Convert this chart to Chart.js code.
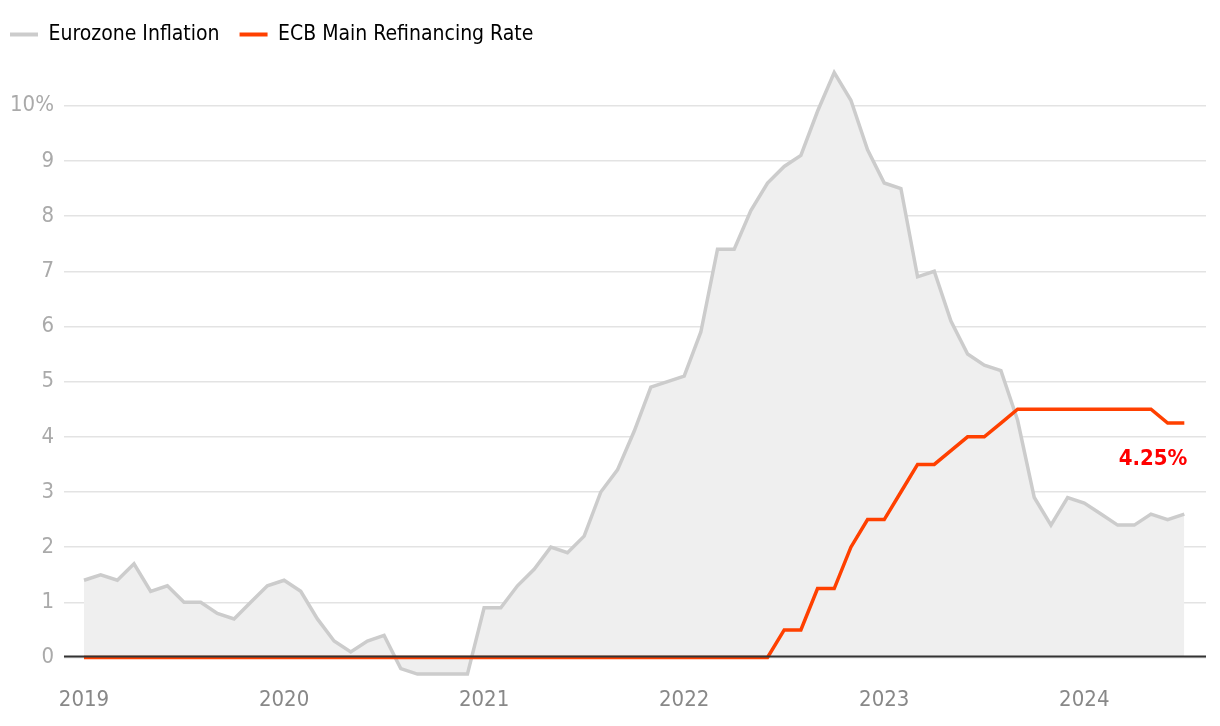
<!DOCTYPE html>
<html><head><meta charset="utf-8">
<script src="https://cdn.jsdelivr.net/npm/chart.js@4"></script>
<style>html,body{margin:0;padding:0;background:#fff}#wrap{width:1220px;height:726px}</style>
</head><body><div id="wrap"><canvas id="c" width="1220" height="726"></canvas></div>
<script>
const months = [];
for (let y = 2019; y <= 2024; y++) for (let m = 1; m <= 12; m++) { if (y === 2024 && m > 7) break; months.push(y + '-' + String(m).padStart(2, '0')); }
const yearLabels = ['2019', '2020', '2021', '2022', '2023', '2024'];
const inflation = [
  1.4, 1.5, 1.4, 1.7, 1.2, 1.3, 1.0, 1.0, 0.8, 0.7, 1.0, 1.3,
  1.4, 1.2, 0.7, 0.3, 0.1, 0.3, 0.4, -0.2, -0.3, -0.3, -0.3, -0.3,
  0.9, 0.9, 1.3, 1.6, 2.0, 1.9, 2.2, 3.0, 3.4, 4.1, 4.9, 5.0,
  5.1, 5.9, 7.4, 7.4, 8.1, 8.6, 8.9, 9.1, 9.9, 10.6, 10.1, 9.2,
  8.6, 8.5, 6.9, 7.0, 6.1, 5.5, 5.3, 5.2, 4.3, 2.9, 2.4, 2.9,
  2.8, 2.6, 2.4, 2.4, 2.6, 2.5, 2.6
];
const ecbRate = [
  0, 0, 0, 0, 0, 0, 0, 0, 0, 0, 0, 0,
  0, 0, 0, 0, 0, 0, 0, 0, 0, 0, 0, 0,
  0, 0, 0, 0, 0, 0, 0, 0, 0, 0, 0, 0,
  0, 0, 0, 0, 0, 0, 0.5, 0.5, 1.25, 1.25, 2.0, 2.5,
  2.5, 3.0, 3.5, 3.5, 3.75, 4.0, 4.0, 4.25, 4.5, 4.5, 4.5, 4.5,
  4.5, 4.5, 4.5, 4.5, 4.5, 4.25, 4.25
];
const yTicks = [0, 1, 2, 3, 4, 5, 6, 7, 8, 9, 10];
const annotationText = '4.25%';

const FONT = '"DejaVu Sans Condensed", "Liberation Sans Narrow", Roboto, sans-serif';
const toPts = arr => arr.map((v, i) => ({ x: i, y: v }));

const endLabel = {
  id: 'endLabel',
  afterLayout(chart) {
    if (chart.legend) { chart.legend.left -= 10; chart.legend.right -= 10; }
  },
  afterDatasetsDraw(chart) {
    const ctx = chart.ctx;
    const y0 = chart.scales.y.getPixelForValue(0);
    ctx.save();
    ctx.strokeStyle = '#333';
    ctx.lineWidth = 2;
    ctx.beginPath();
    ctx.moveTo(chart.chartArea.left, y0 - 1);
    ctx.lineTo(chart.chartArea.right, y0 - 1);
    ctx.stroke();
    const meta = chart.getDatasetMeta(1);
    const last = meta.data[meta.data.length - 1];
    ctx.font = 'bold 22px ' + FONT;
    ctx.fillStyle = '#ff0000';
    ctx.textAlign = 'right';
    ctx.textBaseline = 'middle';
    ctx.fillText(annotationText, last.x + 3, last.y + 36);
    ctx.restore();
  }
};

new Chart(document.getElementById('c'), {
  type: 'line',
  data: {
    datasets: [
      { label: 'Eurozone Inflation', data: toPts(inflation), borderColor: '#cccccc', backgroundColor: '#efefef', fill: 'origin', borderWidth: 3.5, pointRadius: 0, tension: 0, order: 2 },
      { label: 'ECB Main Refinancing Rate', data: toPts(ecbRate), borderColor: '#ff4000', borderWidth: 3.5, pointRadius: 0, fill: false, tension: 0, order: 1 }
    ]
  },
  options: {
    responsive: false,
    animation: false,
    layout: { padding: { left: 0, right: 14, top: 4, bottom: 6 } },
    plugins: {
      tooltip: { enabled: false },
      legend: {
        position: 'top', align: 'start',
        labels: {
          boxWidth: 28, boxHeight: 4, padding: 20,
          color: '#444', font: { family: FONT, size: 21 },
          generateLabels(chart) {
            return chart.data.datasets.map((d, i) => ({ text: d.label, fillStyle: d.borderColor, strokeStyle: d.borderColor, lineWidth: 0, datasetIndex: i }));
          }
        }
      }
    },
    scales: {
      x: {
        type: 'linear', min: -1.2, max: 67.3,
        afterBuildTicks(scale) { scale.ticks = yearLabels.map((_, i) => ({ value: i * 12 })); },
        ticks: { autoSkip: false, maxRotation: 0, color: '#888', font: { family: FONT, size: 22 }, padding: 7, callback: (v) => yearLabels[Math.round(v / 12)] },
        grid: { display: false, drawTicks: false },
        border: { display: false }
      },
      y: {
        min: -0.4, max: 10.92,
        afterBuildTicks(scale) { scale.ticks = yTicks.map(v => ({ value: v })); },
        ticks: { color: '#aaa', font: { family: FONT, size: 22 }, padding: 10, callback: v => v === 10 ? '10%' : String(v) },
        grid: { color: '#e3e3e3', lineWidth: 1.5, drawTicks: false },
        border: { display: false }
      }
    }
  },
  plugins: [endLabel]
});
</script></body></html>
